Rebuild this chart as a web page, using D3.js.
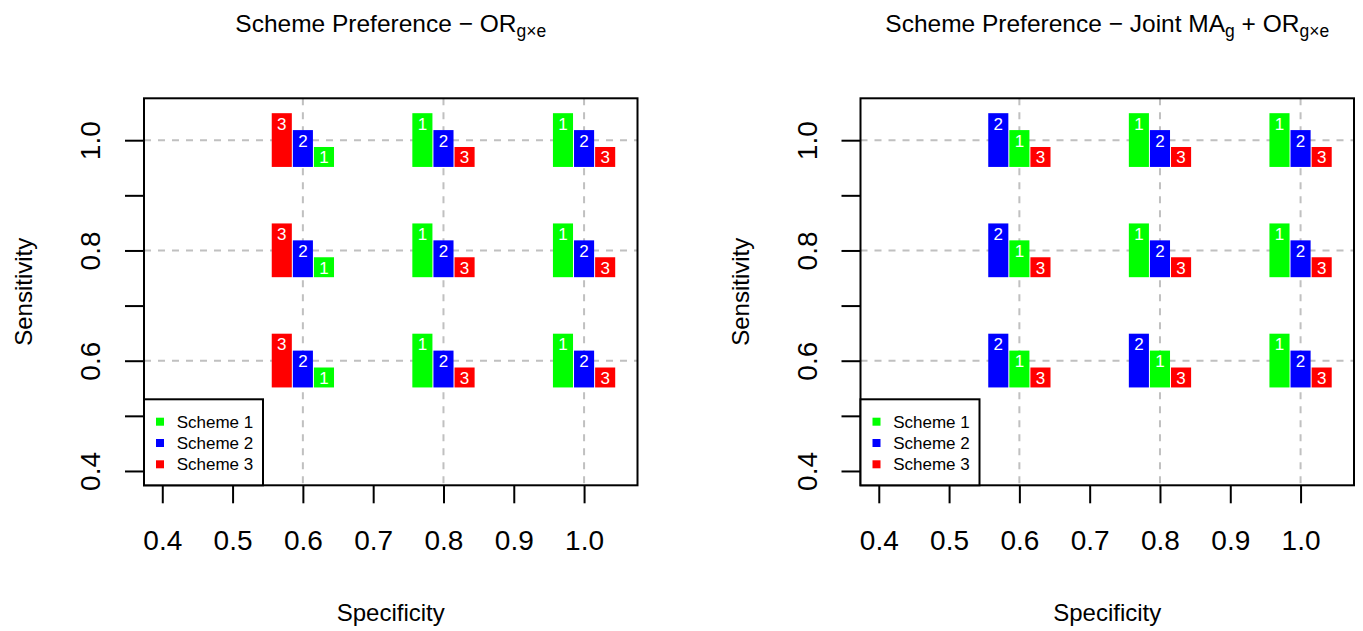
<!DOCTYPE html>
<html>
<head>
<meta charset="utf-8">
<script src="https://cdn.jsdelivr.net/npm/d3@7"></script>
<style>
  body { margin: 0; background: #fff; }
  text { font-family: "Liberation Sans", Arial, Helvetica, sans-serif; }
</style>
</head>
<body>
<script>
// grid of settings
var specs = [0.6, 0.8, 1.0]
var sens = [0.6, 0.8, 1.0]
var schemes = ["Scheme 1", "Scheme 2", "Scheme 3"]
var colors = ["#00ff00", "#0000ff", "#ff0000"]
var xTicks = [0.4, 0.5, 0.6, 0.7, 0.8, 0.9, 1.0]
var yTicks = [0.4, 0.5, 0.6, 0.7, 0.8, 0.9, 1.0]
var yLabels = [0.4, 0.6, 0.8, 1.0]

// preference score (3 = best) per cell, cells ordered spec-major, sens 0.6, 0.8, 1.0
var orScheme1 = [1, 1, 1, 3, 3, 3, 3, 3, 3]
var orScheme2 = [2, 2, 2, 2, 2, 2, 2, 2, 2]
var orScheme3 = [3, 3, 3, 1, 1, 1, 1, 1, 1]

var jointScheme1 = [2, 2, 2, 2, 3, 3, 3, 3, 3]
var jointScheme2 = [3, 3, 3, 3, 2, 2, 2, 2, 2]
var jointScheme3 = [1, 1, 1, 1, 1, 1, 1, 1, 1]

var width = 1363, height = 631

var svg = d3.select("body")
    .append("svg")
    .attr("width", width)
    .attr("height", height)

var box = {left: 144, right: 637.5, top: 98.3, bottom: 485.3}

var x = d3.scaleLinear().domain([0.374, 1.076]).range([box.left, box.right])
var y = d3.scaleLinear().domain([0.374, 1.076]).range([box.bottom, box.top])
var barH = d3.scaleLinear().domain([0, 3]).range([0.0055, 0.0975])
var barW = 0.03
var barBase = 0.0485

function drawPanel(offset, titleParts, s1, s2, s3) {
  var g = svg.append("g").attr("transform", "translate(" + offset + ",0)")

  // grid
  var grid = g.append("g")
      .attr("stroke", "#c0c0c0")
      .attr("stroke-width", 2)
      .attr("stroke-dasharray", "7,7")
  grid.selectAll(".gv").data(specs).enter().append("line")
      .attr("x1", function(d) { return x(d) }).attr("x2", function(d) { return x(d) })
      .attr("y1", box.top).attr("y2", box.bottom)
  grid.selectAll(".gh").data(sens).enter().append("line")
      .attr("y1", function(d) { return y(d) }).attr("y2", function(d) { return y(d) })
      .attr("x1", box.left).attr("x2", box.right)

  // cells
  var cells = []
  specs.forEach(function(sp, i) {
    sens.forEach(function(se, j) {
      var k = i * 3 + j
      var bars = [
        {scheme: 1, score: s1[k]},
        {scheme: 2, score: s2[k]},
        {scheme: 3, score: s3[k]}
      ].sort(function(a, b) { return b.score - a.score })
      bars.forEach(function(b, pos) {
        b.x0 = sp + (pos - 1.5) * barW
        b.y0 = se - barBase
        b.y1 = se - barBase + barH(b.score)
        cells.push(b)
      })
    })
  })

  var bar = g.selectAll(".bar").data(cells).enter().append("g")
  bar.append("rect")
      .attr("x", function(d) { return x(d.x0) + 0.5 })
      .attr("width", function(d) { return x(d.x0 + barW) - x(d.x0) - 1 })
      .attr("y", function(d) { return y(d.y1) })
      .attr("height", function(d) { return y(d.y0) - y(d.y1) })
      .attr("fill", function(d) { return colors[d.scheme - 1] })
  bar.append("text")
      .attr("x", function(d) { return x(d.x0 + barW / 2) })
      .attr("y", function(d) { return y(d.y1) + 16.5 })
      .attr("text-anchor", "middle")
      .attr("fill", "#fff")
      .style("font-size", "17px")
      .text(function(d) { return d.scheme })

  // axes
  var xAxis = g.append("g")
      .attr("transform", "translate(0," + box.bottom + ")")
      .call(d3.axisBottom(x).tickValues(xTicks).tickSize(18).tickFormat(d3.format(".1f")))
  xAxis.select(".domain").remove()
  xAxis.selectAll("line").attr("stroke", "#000").attr("stroke-width", 2)
  xAxis.selectAll("text")
      .attr("y", 65).attr("dy", 0)
      .attr("fill", "#000")
      .style("font-size", "28px")

  var yAxis = g.append("g")
      .attr("transform", "translate(" + box.left + ",0)")
      .call(d3.axisLeft(y).tickValues(yTicks).tickSize(19)
        .tickFormat(function(d) { return yLabels.some(function(v) { return Math.abs(v - d) < 1e-9 }) ? d3.format(".1f")(d) : "" }))
  yAxis.select(".domain").remove()
  yAxis.selectAll("line").attr("stroke", "#000").attr("stroke-width", 2)
  yAxis.selectAll("text")
      .attr("transform", "rotate(-90)")
      .attr("x", 0).attr("y", -44).attr("dy", 0)
      .attr("text-anchor", "middle")
      .attr("fill", "#000")
      .style("font-size", "28px")

  // plot box
  g.append("rect")
      .attr("x", box.left).attr("y", box.top)
      .attr("width", box.right - box.left).attr("height", box.bottom - box.top)
      .attr("fill", "none").attr("stroke", "#000").attr("stroke-width", 2)

  // axis titles
  g.append("text")
      .attr("x", (box.left + box.right) / 2).attr("y", 621)
      .attr("text-anchor", "middle")
      .style("font-size", "24px")
      .text("Specificity")
  g.append("text")
      .attr("transform", "translate(32," + (box.top + box.bottom) / 2 + ") rotate(-90)")
      .attr("text-anchor", "middle")
      .style("font-size", "24px")
      .text("Sensitivity")

  // title
  var title = g.append("text")
      .attr("x", (box.left + box.right) / 2).attr("y", 32)
      .attr("text-anchor", "middle")
      .style("font-size", "24.5px")
  titleParts.forEach(function(p) {
    title.append("tspan")
        .attr("dy", p.sub ? 5 : (p.after ? -5 : 0))
        .style("font-size", p.sub ? "17.5px" : "24.5px")
        .text(p.t)
  })

  // legend
  var lg = g.append("g")
  lg.append("rect")
      .attr("x", box.left).attr("y", 399.3)
      .attr("width", 119).attr("height", box.bottom - 399.3)
      .attr("fill", "#fff").attr("stroke", "#000").attr("stroke-width", 2)
  schemes.forEach(function(s, i) {
    var cy = 421.7 + i * 21.3
    lg.append("rect")
        .attr("x", 156).attr("y", cy - 4)
        .attr("width", 8).attr("height", 8)
        .attr("fill", colors[i])
    lg.append("text")
        .attr("x", 176.7).attr("y", cy + 6)
        .style("font-size", "17px")
        .text(s)
  })
}

drawPanel(0, [{t: "Scheme Preference \u2212 OR"}, {t: "g\u00d7e", sub: true}],
  orScheme1, orScheme2, orScheme3)
drawPanel(716.5, [{t: "Scheme Preference \u2212 Joint MA"}, {t: "g", sub: true},
  {t: " + OR", after: true}, {t: "g\u00d7e", sub: true}],
  jointScheme1, jointScheme2, jointScheme3)
</script>
</body>
</html>
